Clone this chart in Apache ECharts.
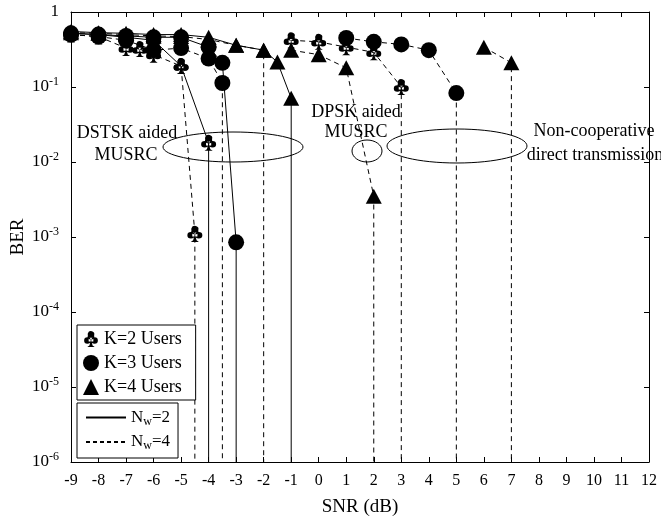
<!DOCTYPE html>
<html>
<head>
<meta charset="utf-8">
<script src="https://cdn.jsdelivr.net/npm/echarts@6/dist/echarts.min.js"></script>
<style>html,body{margin:0;padding:0;background:#fff}#c{width:661px;height:518px}</style>
</head>
<body>
<div id="c"></div>
<script>
// ---- data (BER below 1e-6 / "ZERO" marks the drop to error-free) ----
const ZERO = 1e-9;
const xTicks = [-9,-8,-7,-6,-5,-4,-3,-2,-1,0,1,2,3,4,5,6,7,8,9,10,11,12];
const yTicks = [1e-6,1e-5,1e-4,1e-3,1e-2,1e-1,1];

// DSTSK aided MUSRC
const snrK2Nw2 = [-9,-8,-7,-6,-5,-4,-4];
const berK2Nw2 = [0.52,0.5,0.46,0.42,0.19,0.018,ZERO];
const snrK2Nw4 = [-9,-8,-7,-6.5,-6,-5,-4.5,-4.5];
const berK2Nw4 = [0.5,0.47,0.33,0.32,0.27,0.19,0.0011,ZERO];
const snrK3Nw2 = [-9,-8,-7,-6,-5,-4,-3.5,-3,-3];
const berK3Nw2 = [0.52,0.5,0.48,0.46,0.46,0.34,0.21,0.00085,ZERO];
const snrK3Nw4 = [-9,-8,-7,-6,-5,-4,-3.5,-3.5];
const berK3Nw4 = [0.5,0.47,0.42,0.31,0.33,0.24,0.113,ZERO];
const snrK4Nw2 = [-9,-8,-7,-6,-5,-4,-3,-2,-1.5,-1,-1];
const berK4Nw2 = [0.55,0.53,0.52,0.5,0.5,0.46,0.36,0.31,0.215,0.071,ZERO];
const snrK4Nw4 = [-9,-8,-7,-6,-5,-4,-3,-2,-2];
const berK4Nw4 = [0.53,0.52,0.5,0.48,0.47,0.43,0.36,0.31,ZERO];
// DPSK aided MUSRC
const snrK2Dpsk = [-1,0,1,2,3,3];
const berK2Dpsk = [0.42,0.40,0.34,0.29,0.10,ZERO];
const snrK3Dpsk = [1,2,3,4,5,5];
const berK3Dpsk = [0.45,0.40,0.37,0.31,0.083,ZERO];
const snrK4Dpsk = [-1,0,1,2,2];
const berK4Dpsk = [0.31,0.27,0.18,0.0035,ZERO];
// Non-cooperative direct transmission
const snrK4Direct = [6,7,7];
const berK4Direct = [0.34,0.21,ZERO];

const CLUB = 'path://M30,25 A21,21 0 1,0 70,25 A21,21 0 1,0 30,25 Z M6,58 A21,21 0 1,0 48,58 A21,21 0 1,0 6,58 Z M52,58 A21,21 0 1,0 94,58 A21,21 0 1,0 52,58 Z M35,40 L65,40 L65,65 L35,65 Z M50,50 L60,90 L74,100 L26,100 L40,90 Z';
const FONT = 'Liberation Serif';

function mk(name, xs, ys, dashed, symbol, size) {
  return {
    type: 'line', name: name,
    data: xs.map((x, i) => ys[i] <= ZERO ? {value: [x, ys[i]], symbol: 'none'} : [x, ys[i]]),
    symbol: symbol, symbolSize: size, showAllSymbol: true,
    lineStyle: {color: '#000', width: 1, type: dashed ? [5, 4] : 'solid'},
    itemStyle: {color: '#000'},
    clip: true, animation: false, silent: true
  };
}
const K2 = 'K=2 Users', K3 = 'K=3 Users', K4 = 'K=4 Users';
const TRI = [16, 15], CIR = 16, CLS = [15, 16];
const series = [
  mk(K4, snrK4Nw2, berK4Nw2, false, 'triangle', TRI),
  mk(K4, snrK4Nw4, berK4Nw4, true, 'triangle', TRI),
  mk(K3, snrK3Nw2, berK3Nw2, false, 'circle', CIR),
  mk(K3, snrK3Nw4, berK3Nw4, true, 'circle', CIR),
  mk(K2, snrK2Nw2, berK2Nw2, false, CLUB, CLS),
  mk(K2, snrK2Nw4, berK2Nw4, true, CLUB, CLS),
  mk(K2, snrK2Dpsk, berK2Dpsk, true, CLUB, CLS),
  mk(K4, snrK4Dpsk, berK4Dpsk, true, 'triangle', TRI),
  mk(K3, snrK3Dpsk, berK3Dpsk, true, 'circle', CIR),
  mk(K4, snrK4Direct, berK4Direct, true, 'triangle', TRI),
  {type: 'line', name: 'Nw=2', data: [], symbol: 'none', showSymbol: false, lineStyle: {color: '#000', width: 1, type: 'solid'}, itemStyle: {color: '#000'}},
  {type: 'line', name: 'Nw=4', data: [], symbol: 'none', showSymbol: false, lineStyle: {color: '#000', width: 1, type: [4, 3]}, itemStyle: {color: '#000'}}
];

function supLabel(v) {
  const e = Math.round(Math.log10(v));
  if (e === 0) return '{b|1}';
  return '{b|10}{s|' + e + '}';
}

const chart = echarts.init(document.getElementById('c'), null, {renderer: 'canvas'});
const axLine = {show: true, onZero: false, lineStyle: {color: '#000', width: 1}};
const txt = (t, x, y) => ({type: 'text', x: x, y: y, style: {text: t, font: '18px "' + FONT + '"', fill: '#000', align: 'center', verticalAlign: 'middle', textAlign: 'center', textVerticalAlign: 'middle'}, z: 100});
const ell = (cx, cy, rx, ry) => ({type: 'ellipse', shape: {cx: cx, cy: cy, rx: rx, ry: ry}, style: {fill: 'none', stroke: '#000', lineWidth: 1}, z: 100});

chart.setOption({
  animation: false,
  backgroundColor: '#fff',
  grid: {left: 71, right: 12, top: 12, bottom: 56, containLabel: false, outerBoundsMode: 'none'},
  xAxis: [
    {type: 'value', min: -9, max: 12, interval: 1, position: 'bottom',
     axisLine: axLine, axisTick: {inside: true, length: 5, lineStyle: {color: '#000'}},
     axisLabel: {color: '#000', fontFamily: FONT, fontSize: 16, margin: 11, formatter: v => String(v)},
     splitLine: {show: false},
     name: 'SNR (dB)', nameLocation: 'middle', nameGap: 36, nameMoveOverlap: false,
     nameTextStyle: {color: '#000', fontFamily: FONT, fontSize: 19}},
    {type: 'value', min: -9, max: 12, interval: 1, position: 'top',
     axisLine: axLine, axisTick: {inside: true, length: 5, lineStyle: {color: '#000'}},
     axisLabel: {show: false}, splitLine: {show: false}}
  ],
  yAxis: [
    {type: 'log', logBase: 10, min: 1e-6, max: 1, interval: 1,
     axisLine: axLine, axisTick: {inside: true, length: 5, lineStyle: {color: '#000'}},
     minorTick: {show: false}, splitLine: {show: false},
     axisLabel: {color: '#000', margin: 12, formatter: supLabel,
       rich: {b: {fontFamily: FONT, fontSize: 17, color: '#000'},
              s: {fontFamily: FONT, fontSize: 12, color: '#000', padding: [0, 0, 10, 0]}}},
     name: 'BER', nameLocation: 'middle', nameGap: 43, nameMoveOverlap: false,
     nameTextStyle: {color: '#000', fontFamily: FONT, fontSize: 19}},
    {type: 'log', logBase: 10, min: 1e-6, max: 1, interval: 1, position: 'right',
     axisLine: axLine, axisTick: {inside: true, length: 5, lineStyle: {color: '#000'}},
     axisLabel: {show: false}, splitLine: {show: false}}
  ],
  legend: [
    {data: [{name: K2, icon: CLUB}, {name: K3, icon: 'circle'}, {name: K4, icon: 'triangle'}],
     orient: 'vertical', left: 77, top: 325, itemWidth: 16, itemHeight: 16, itemGap: 6,
     padding: [5, 14, 4, 6], borderColor: '#000', borderWidth: 1, backgroundColor: '#fff',
     selectedMode: false,
     textStyle: {color: '#000', fontFamily: FONT, fontSize: 18}},
    {data: [{name: 'Nw=2', itemStyle: {opacity: 0}}, {name: 'Nw=4', itemStyle: {opacity: 0}}],
     orient: 'vertical', left: 77, top: 403,
     itemWidth: 40, itemHeight: 12, itemGap: 6, padding: [6, 8, 6, 8],
     borderColor: '#000', borderWidth: 1, backgroundColor: '#fff', selectedMode: false,
     formatter: n => '{n|N}{s|w}{n|' + n.slice(2) + '}',
     textStyle: {color: '#000', fontFamily: FONT, fontSize: 17,
       rich: {n: {fontFamily: FONT, fontSize: 17, color: '#000'},
              s: {fontFamily: FONT, fontSize: 12, color: '#000', padding: [8, 0, 0, 0]}}}}
  ],
  series: series,
  graphic: [
    ell(233, 147, 70, 15), ell(367, 151, 15, 11), ell(457, 146, 70, 17),
    txt('DSTSK aided', 127, 133), txt('MUSRC', 126, 155),
    txt('DPSK aided', 356, 112), txt('MUSRC', 356, 132),
    txt('Non-cooperative', 594, 131), txt('direct transmission', 595, 155)
  ]
});
</script>
</body>
</html>
